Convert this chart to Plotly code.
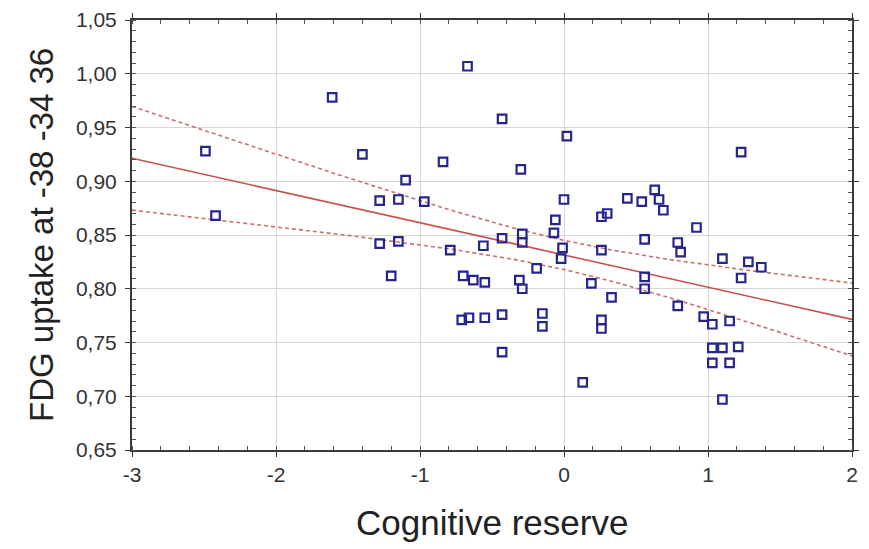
import numpy as np
import plotly.graph_objects as go

# Data
cognitive_reserve = [
    -2.49, -2.42, -1.61, -1.40, -1.28, -1.15, -1.10, -0.97, -0.84, -0.67,
    -0.43, 0.02, -0.30, 0.00, -0.06, 0.26, 0.30, 1.23, 0.44, 0.54,
    0.63, 0.66, 0.69, 0.92, -0.07, -0.29, -0.29, -0.43, -0.56, -0.79,
    -1.15, -1.28, -0.01, -0.02, -0.19, -1.20, -0.70, -0.63, -0.55, -0.31,
    -0.29, 0.19, 0.26, 0.33, -0.71, -0.66, -0.55, -0.43, -0.15, -0.15,
    0.26, 0.26, -0.43, 0.13, 0.56, 0.79, 0.81, 1.10, 1.28, 1.37,
    1.23, 0.56, 0.56, 0.79, 0.97, 1.03, 1.15, 1.03, 1.10, 1.21,
    1.03, 1.15, 1.10,
]
fdg_uptake = [
    0.928, 0.868, 0.978, 0.925, 0.882, 0.883, 0.901, 0.881, 0.918, 1.007,
    0.958, 0.942, 0.911, 0.883, 0.864, 0.867, 0.870, 0.927, 0.884, 0.881,
    0.892, 0.883, 0.873, 0.857, 0.852, 0.851, 0.843, 0.847, 0.840, 0.836,
    0.844, 0.842, 0.838, 0.828, 0.819, 0.812, 0.812, 0.808, 0.806, 0.808,
    0.800, 0.805, 0.836, 0.792, 0.771, 0.773, 0.773, 0.776, 0.777, 0.765,
    0.771, 0.763, 0.741, 0.713, 0.846, 0.843, 0.834, 0.828, 0.825, 0.820,
    0.810, 0.811, 0.800, 0.784, 0.774, 0.767, 0.770, 0.745, 0.745, 0.746,
    0.731, 0.731, 0.697,
]
x_ticks = [-3, -2, -1, 0, 1, 2]
y_ticks = [0.65, 0.70, 0.75, 0.80, 0.85, 0.90, 0.95, 1.00, 1.05]
x_title = "Cognitive reserve"
y_title = "FDG uptake at -38 -34 36"

# Linear regression with 95% confidence band of the mean
x = np.array(cognitive_reserve)
y = np.array(fdg_uptake)
n = len(x)
slope, intercept = np.polyfit(x, y, 1)
resid = y - (intercept + slope * x)
s = np.sqrt(np.sum(resid ** 2) / (n - 2))
xbar = x.mean()
sxx = np.sum((x - xbar) ** 2)
t = 1.994
xf = np.linspace(-3, 2, 101)
yf = intercept + slope * xf
hw = t * s * np.sqrt(1 / n + (xf - xbar) ** 2 / sxx)

line_col = "#c8504f"
band_col = "#c87070"
marker_col = "#25258f"

fig = go.Figure()
fig.add_trace(go.Scatter(x=xf, y=yf + hw, mode="lines",
                         line=dict(color=band_col, width=1.6, dash="4px,3px"),
                         hoverinfo="skip"))
fig.add_trace(go.Scatter(x=xf, y=yf - hw, mode="lines",
                         line=dict(color=band_col, width=1.6, dash="4px,3px"),
                         hoverinfo="skip"))
fig.add_trace(go.Scatter(x=xf, y=yf, mode="lines",
                         line=dict(color=line_col, width=1.6),
                         hoverinfo="skip"))
fig.add_trace(go.Scatter(x=cognitive_reserve, y=fdg_uptake, mode="markers",
                         marker=dict(symbol="square-open", size=8.5,
                                     color=marker_col, line=dict(width=2.2, color=marker_col))))

FONT = "Liberation Sans, Arial, sans-serif"
axis_font = dict(family=FONT, size=21, color="#333333")
fig.update_layout(
    width=861, height=541,
    margin=dict(l=124, r=17, t=12, b=99, autoexpand=False),
    paper_bgcolor="white", plot_bgcolor="white",
    showlegend=False,
    font=dict(family=FONT, color="#222222"),
    annotations=[
        dict(text=y_title, xref="paper", yref="paper", x=0, y=0.5,
             xanchor="center", yanchor="middle", xshift=-91, textangle=-90,
             showarrow=False, font=dict(family=FONT, size=33, color="#222222")),
        dict(text=x_title, xref="paper", yref="paper", x=0.5, y=0,
             xanchor="center", yanchor="middle", yshift=-72,
             showarrow=False, font=dict(family=FONT, size=35, color="#222222")),
    ],
)
fig.update_xaxes(
    range=[-3, 2], tickvals=x_ticks, ticktext=[str(v) for v in x_ticks],
    showgrid=True, gridcolor="#d6d6d6", gridwidth=1,
    showline=True, linecolor="#3a3a3a", linewidth=2, mirror="ticks",
    ticks="outside", ticklen=5, tickcolor="#3a3a3a",
    minor=dict(dtick=0.2, ticks="inside", ticklen=4, tickcolor="#555555", showgrid=False),
    tickfont=axis_font, zeroline=False, automargin=False,
)
fig.update_yaxes(
    range=[0.65, 1.05], tickvals=y_ticks, ticktext=[f"{v:.2f}".replace(".", ",") for v in y_ticks],
    showgrid=True, gridcolor="#d6d6d6", gridwidth=1,
    showline=True, linecolor="#3a3a3a", linewidth=2, mirror="ticks",
    ticks="outside", ticklen=5, tickcolor="#3a3a3a", ticklabelstandoff=4,
    minor=dict(dtick=0.01, ticks="inside", ticklen=4, tickcolor="#555555", showgrid=False),
    tickfont=axis_font, zeroline=False, automargin=False,
)
fig.write_html("out.html")
